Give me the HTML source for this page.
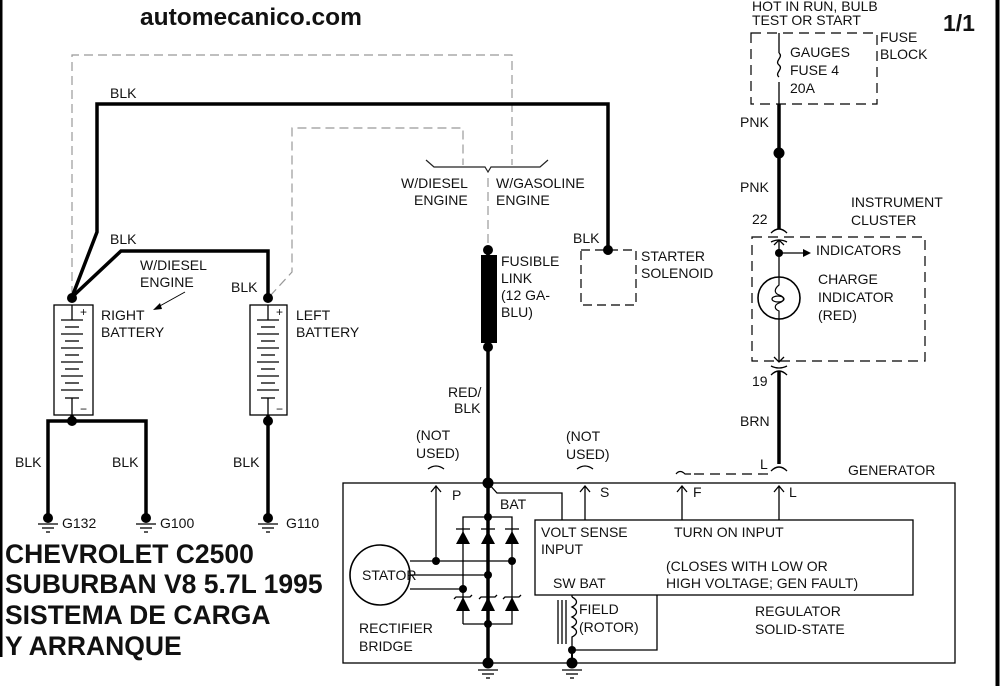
<!DOCTYPE html>
<html><head><meta charset="utf-8"><style>
html,body{margin:0;padding:0;background:#fff;}
svg{display:block;}
text{font-family:"Liberation Sans",Arial,sans-serif;font-size:14px;fill:#111;}
.b{font-weight:bold;}
</style></head><body>
<svg width="1000" height="686" viewBox="0 0 1000 686" xmlns="http://www.w3.org/2000/svg">
<rect x="0" y="0" width="1000" height="686" fill="#fff"/>
<line x1="1" y1="0" x2="1" y2="657" stroke="#000" stroke-width="3"/>
<line x1="997.5" y1="0" x2="997.5" y2="686" stroke="#000" stroke-width="4"/>

<text x="140" y="25" class="b" style="font-size:24.5px">automecanico.com</text>
<text x="943" y="31" class="b" style="font-size:23px">1/1</text>

<!-- grey dashed -->
<g stroke="#999" stroke-width="1.2" fill="none" stroke-dasharray="9,5">
<polyline points="72,295 72,55 512,55 512,165"/>
<polyline points="270,296 292,272 292,128 463,128 463,165"/>
<line x1="488" y1="178" x2="488" y2="246"/>
</g>
<polyline points="426,160 434,167 485,167 488,172 491,167 540,167 548,160" fill="none" stroke="#222" stroke-width="1.2"/>
<text x="401" y="188">W/DIESEL</text><text x="414" y="205">ENGINE</text>
<text x="496" y="188">W/GASOLINE</text><text x="496" y="205">ENGINE</text>

<!-- BLK thick wires -->
<g stroke="#000" stroke-width="3.5" fill="none">
<polyline points="72,297 97,232 97,104 608,104 608,248"/>
<polyline points="72,297 121,251 268,251 268,297"/>
<polyline points="48,515 48,421 146,421 146,515"/>
<line x1="72" y1="415" x2="72" y2="421"/>
<line x1="268" y1="415" x2="268" y2="515"/>
<line x1="488" y1="248" x2="488" y2="662"/>
</g>
<text x="110" y="98">BLK</text>
<text x="110" y="244">BLK</text>
<text x="231" y="292">BLK</text>
<text x="140" y="270">W/DIESEL</text><text x="140" y="287">ENGINE</text>
<line x1="185" y1="292" x2="158" y2="307" stroke="#000" stroke-width="1"/>
<polygon points="153,310 160,303 162,309" fill="#000"/>

<!-- batteries -->
<g fill="none" stroke="#000" stroke-width="1.3">
<rect x="54" y="305" width="39" height="110"/>
<rect x="250" y="305" width="37" height="110"/>
</g>
<g stroke="#000" stroke-width="1.3">
<line x1="72" y1="305" x2="72" y2="320"/><line x1="72" y1="398" x2="72" y2="415"/>
<line x1="268" y1="305" x2="268" y2="320"/><line x1="268" y1="398" x2="268" y2="415"/>
<line x1="61" y1="320" x2="83" y2="320"/><line x1="65" y1="327" x2="79" y2="327"/>
<line x1="61" y1="334" x2="83" y2="334"/><line x1="65" y1="341" x2="79" y2="341"/>
<line x1="61" y1="348" x2="83" y2="348"/><line x1="65" y1="355" x2="79" y2="355"/>
<line x1="61" y1="362" x2="83" y2="362"/><line x1="65" y1="369" x2="79" y2="369"/>
<line x1="61" y1="376" x2="83" y2="376"/><line x1="65" y1="383" x2="79" y2="383"/>
<line x1="61" y1="390" x2="83" y2="390"/><line x1="65" y1="398" x2="79" y2="398"/>
<line x1="257" y1="320" x2="279" y2="320"/><line x1="261" y1="327" x2="275" y2="327"/>
<line x1="257" y1="334" x2="279" y2="334"/><line x1="261" y1="341" x2="275" y2="341"/>
<line x1="257" y1="348" x2="279" y2="348"/><line x1="261" y1="355" x2="275" y2="355"/>
<line x1="257" y1="362" x2="279" y2="362"/><line x1="261" y1="369" x2="275" y2="369"/>
<line x1="257" y1="376" x2="279" y2="376"/><line x1="261" y1="383" x2="275" y2="383"/>
<line x1="257" y1="390" x2="279" y2="390"/><line x1="261" y1="398" x2="275" y2="398"/>
</g>
<text x="80" y="316" style="font-size:12px">+</text><text x="80" y="413" style="font-size:12px">−</text>
<text x="276" y="316" style="font-size:12px">+</text><text x="276" y="413" style="font-size:12px">−</text>
<g fill="#000">
<circle cx="72" cy="298" r="5"/><circle cx="72" cy="421" r="5"/>
<circle cx="268" cy="298" r="5"/><circle cx="268" cy="421" r="5"/>
</g>
<text x="101" y="320">RIGHT</text><text x="101" y="337">BATTERY</text>
<text x="296" y="320">LEFT</text><text x="296" y="337">BATTERY</text>
<text x="15" y="467">BLK</text><text x="112" y="467">BLK</text><text x="233" y="467">BLK</text>

<!-- grounds -->
<g stroke="#000" stroke-width="1.3">
<line x1="38" y1="524" x2="58" y2="524"/><line x1="42" y1="528" x2="54" y2="528"/><line x1="46" y1="532" x2="50" y2="532"/>
<line x1="136" y1="524" x2="156" y2="524"/><line x1="140" y1="528" x2="152" y2="528"/><line x1="144" y1="532" x2="148" y2="532"/>
<line x1="258" y1="524" x2="278" y2="524"/><line x1="262" y1="528" x2="274" y2="528"/><line x1="266" y1="532" x2="270" y2="532"/>
<line x1="478" y1="670" x2="498" y2="670"/><line x1="482" y1="674" x2="494" y2="674"/><line x1="486" y1="678" x2="490" y2="678"/>
<line x1="562" y1="670" x2="582" y2="670"/><line x1="566" y1="674" x2="578" y2="674"/><line x1="570" y1="678" x2="574" y2="678"/>
</g>
<g fill="#000">
<circle cx="48" cy="518" r="5"/><circle cx="146" cy="518" r="5"/><circle cx="268" cy="518" r="5"/>
</g>
<text x="62" y="528">G132</text><text x="160" y="528">G100</text><text x="286" y="528">G110</text>

<text x="5" y="563" style="font-size:26.5px;font-weight:bold">CHEVROLET C2500</text>
<text x="5" y="593" style="font-size:26.5px;font-weight:bold">SUBURBAN V8 5.7L 1995</text>
<text x="5" y="624" style="font-size:26.5px;font-weight:bold">SISTEMA DE CARGA</text>
<text x="5" y="655" style="font-size:26.5px;font-weight:bold">Y ARRANQUE</text>

<!-- fusible link -->
<rect x="481" y="255" width="16" height="88" fill="#000"/>
<circle cx="488" cy="250" r="5"/><circle cx="488" cy="347" r="5"/>
<text x="501" y="266">FUSIBLE</text><text x="501" y="283">LINK</text><text x="501" y="300">(12 GA-</text><text x="501" y="317">BLU)</text>
<text x="448" y="397">RED/</text><text x="454" y="413">BLK</text>

<!-- starter solenoid -->
<rect x="581" y="250" width="55" height="55" fill="none" stroke="#000" stroke-width="1.2" stroke-dasharray="9,5"/>
<circle cx="608" cy="250" r="5"/>
<text x="573" y="243">BLK</text>
<text x="641" y="261">STARTER</text><text x="641" y="278">SOLENOID</text>

<!-- right column -->
<text x="752" y="11">HOT IN RUN, BULB</text><text x="752" y="25">TEST OR START</text>
<rect x="751" y="33" width="126" height="71" fill="none" stroke="#000" stroke-width="1.2" stroke-dasharray="10,6"/>
<text x="880" y="42">FUSE</text><text x="880" y="59">BLOCK</text>
<text x="790" y="57">GAUGES</text><text x="790" y="75">FUSE 4</text><text x="790" y="93">20A</text>
<g stroke="#000" fill="none">
<line x1="779" y1="33" x2="779" y2="53" stroke-width="1.3"/>
<path d="M779,53 c5,4 -5,8 0,12 c5,4 -5,8 0,12" stroke-width="1.3"/>
<line x1="779" y1="82" x2="779" y2="104" stroke-width="1.3"/>
<line x1="779" y1="104" x2="779" y2="229" stroke-width="3.5"/>
<path d="M771,233 q8,-8 16,0" stroke-width="1.3"/>
<path d="M771,242 q8,-4 16,0" stroke-width="1.3"/>
<line x1="779" y1="240" x2="779" y2="277" stroke-width="1.3"/>
<line x1="779" y1="319" x2="779" y2="362" stroke-width="1.3"/>
<polyline points="774,245 779,240 784,245" stroke-width="1.3"/>
<polyline points="774,357 779,362 784,357" stroke-width="1.3"/>
<path d="M771,366 q8,4 16,0" stroke-width="1.3"/>
<path d="M771,375 q8,-8 16,0" stroke-width="1.3"/>
<line x1="779" y1="371" x2="779" y2="464" stroke-width="3.5"/>
<path d="M771,471 q8,-8 16,0" stroke-width="1.3"/>
<circle cx="779" cy="298" r="21" stroke-width="1.6"/>
<path d="M779,277 l0,8 c-5,4 -5,8 0,10 c6,2 6,6 0,8 c-5,2 -5,6 0,8 l0,8" stroke-width="1.2"/>
<ellipse cx="778" cy="299" rx="6" ry="3" stroke-width="1.2"/>
<line x1="779" y1="253" x2="803" y2="253" stroke-width="1.3"/>
</g>
<polygon points="803,249 811,253 803,257" fill="#000"/>
<circle cx="779" cy="153" r="5.5"/>
<circle cx="779" cy="253" r="4"/>
<rect x="752" y="237" width="173" height="124" fill="none" stroke="#000" stroke-width="1.2" stroke-dasharray="10,6"/>
<text x="740" y="127">PNK</text><text x="740" y="192">PNK</text>
<text x="752" y="224">22</text><text x="752" y="386">19</text>
<text x="740" y="426">BRN</text>
<text x="851" y="207">INSTRUMENT</text><text x="851" y="225">CLUSTER</text>
<text x="816" y="255">INDICATORS</text>
<text x="818" y="284">CHARGE</text><text x="818" y="302">INDICATOR</text><text x="818" y="320">(RED)</text>

<!-- generator -->
<rect x="343" y="483" width="612" height="180" fill="none" stroke="#000" stroke-width="1.3"/>
<text x="848" y="475">GENERATOR</text>
<path d="M676,474 q4,-5 9,0 l6,0" fill="none" stroke="#000" stroke-width="1.2"/>
<line x1="694" y1="474" x2="768" y2="474" stroke="#000" stroke-width="1.2" stroke-dasharray="10,6"/>
<text x="760" y="469">L</text>
<g stroke="#000" stroke-width="1.3" fill="none">
<path d="M428,469 q8,-6 16,0"/><path d="M577,469 q8,-6 16,0"/>
<line x1="436" y1="487" x2="436" y2="563"/><polyline points="431,492 436,486 441,492"/>
<line x1="585" y1="487" x2="585" y2="520"/><polyline points="580,492 585,486 590,492"/>
<line x1="682" y1="487" x2="682" y2="520"/><polyline points="677,492 682,486 687,492"/>
<line x1="779" y1="487" x2="779" y2="520"/><polyline points="774,492 779,486 784,492"/>
<polyline points="488,483 497,493 562,493 562,520"/>
<rect x="535" y="520" width="378" height="75"/>
<polyline points="463,624 463,517 512,517 512,624 463,624"/>
<circle cx="380" cy="575" r="30" stroke-width="1.6"/>
<line x1="410" y1="561" x2="512" y2="561"/>
<line x1="410" y1="575" x2="488" y2="575"/>
<line x1="410" y1="589" x2="463" y2="589"/>
<line x1="456" y1="529" x2="470" y2="529"/><line x1="481" y1="529" x2="495" y2="529"/><line x1="505" y1="529" x2="519" y2="529"/>
<path d="M454,599 l2,-2 l14,0 l2,-2"/><path d="M479,599 l2,-2 l14,0 l2,-2"/><path d="M503,599 l2,-2 l14,0 l2,-2"/>
<path d="M572,597 c6,3 6,7 0,10 c6,3 6,7 0,10 c6,3 6,7 0,10 c6,3 6,7 0,10 l0,13"/>
<line x1="558" y1="600" x2="558" y2="644"/><line x1="562" y1="600" x2="562" y2="644"/><line x1="566" y1="600" x2="566" y2="644"/>
<polyline points="572,650 657,650 657,595"/>
<line x1="572" y1="595" x2="572" y2="597"/>
<line x1="572" y1="650" x2="572" y2="664" stroke-width="2"/>
</g>
<g fill="#000">
<polygon points="456,544 470,544 463,531"/><polygon points="481,544 495,544 488,531"/><polygon points="505,544 519,544 512,531"/>
<polygon points="456,611 470,611 463,597"/><polygon points="481,611 495,611 488,597"/><polygon points="505,611 519,611 512,597"/>
<circle cx="488" cy="483" r="5.5"/><circle cx="488" cy="517" r="4"/><circle cx="488" cy="575" r="4"/><circle cx="488" cy="624" r="4"/>
<circle cx="436" cy="561" r="4"/><circle cx="512" cy="561" r="4"/><circle cx="463" cy="589" r="4"/>
<circle cx="488" cy="663" r="5.5"/><circle cx="572" cy="663" r="5.5"/><circle cx="572" cy="650" r="4"/>
</g>
<text x="416" y="440">(NOT</text><text x="416" y="458">USED)</text>
<text x="566" y="441">(NOT</text><text x="566" y="459">USED)</text>
<text x="452" y="500">P</text><text x="600" y="497">S</text><text x="693" y="497">F</text><text x="789" y="497">L</text>
<text x="500" y="509">BAT</text>
<text x="362" y="580">STATOR</text>
<text x="359" y="633">RECTIFIER</text><text x="359" y="651">BRIDGE</text>
<text x="541" y="537">VOLT SENSE</text><text x="541" y="554">INPUT</text>
<text x="553" y="588">SW BAT</text>
<text x="674" y="537">TURN ON INPUT</text>
<text x="666" y="571">(CLOSES WITH LOW OR</text><text x="666" y="588">HIGH VOLTAGE; GEN FAULT)</text>
<text x="579" y="614">FIELD</text><text x="579" y="632">(ROTOR)</text>
<text x="755" y="616">REGULATOR</text><text x="755" y="634">SOLID-STATE</text>
</svg>
</body></html>
